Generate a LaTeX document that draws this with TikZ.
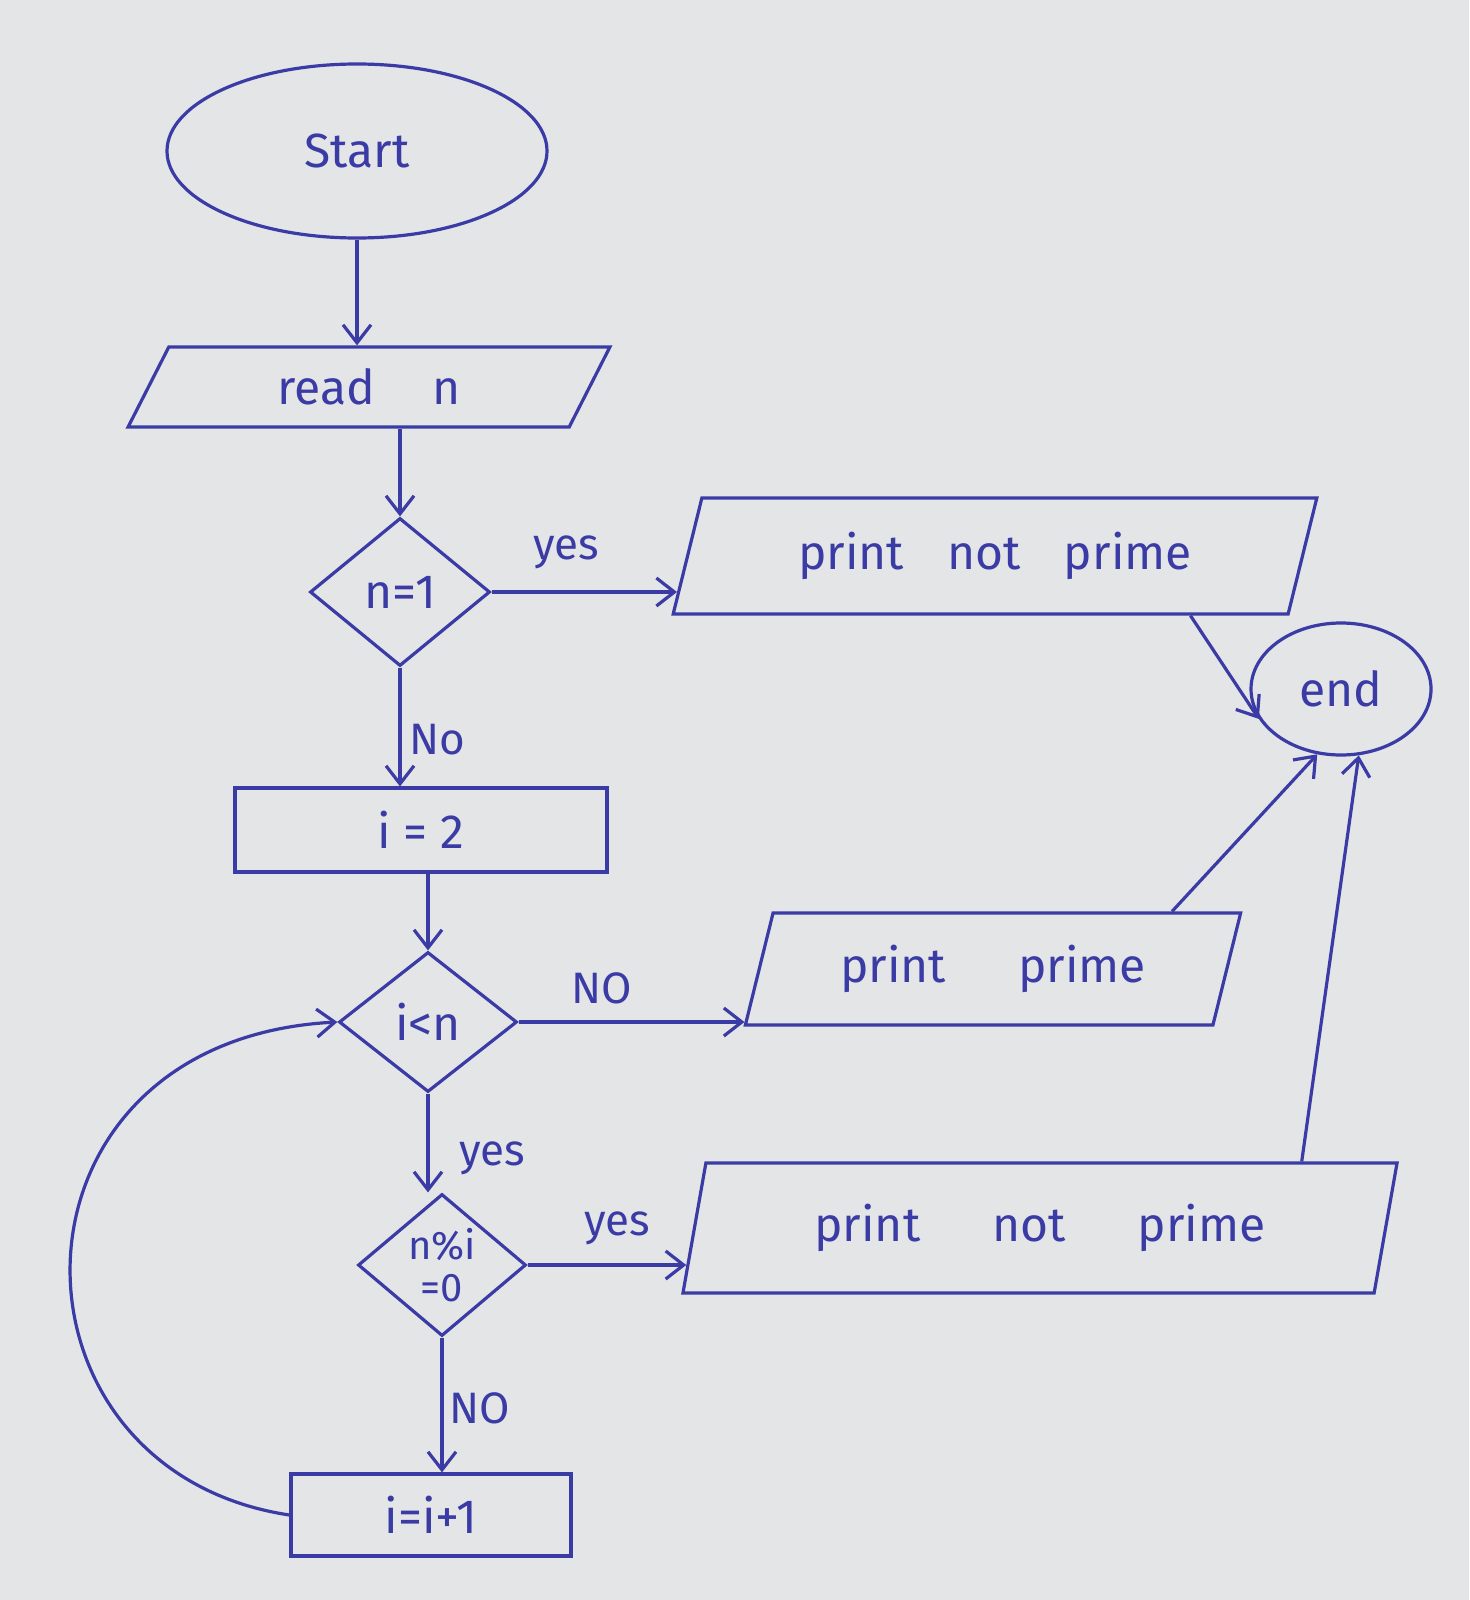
\documentclass[tikz,border=0pt]{standalone}
\usepackage{fontspec}
\setmainfont{Fira Sans}
\usetikzlibrary{shapes.geometric,arrows.meta,calc,intersections}
\definecolor{ink}{HTML}{3B3BA6}
\definecolor{paper}{HTML}{E4E5E7}
\begin{document}
\begin{tikzpicture}[x=0.5pt,y=-0.5pt,
  every node/.style={text=ink, font=\fontsize{24}{28}\selectfont},
  line/.style={draw=ink, line width=1.6pt},
  arr/.style={line, -{Straight Barb[length=9pt,width=14pt]}},
  term/.style={line, ellipse, inner sep=0pt},
  io/.style={line, trapezium, trapezium left angle=68, trapezium right angle=112, trapezium stretches=true, inner sep=0pt},
  proc/.style={line, rectangle, inner sep=0pt},
  dec/.style={line, diamond, inner sep=0pt, aspect=1.2},
  lbl/.style={font=\fontsize{22}{26}\selectfont}
]
\fill[paper] (0,0) rectangle (1469,1600);
\useasboundingbox (0,0) rectangle (1469,1600);

% nodes
\node[term, minimum width=190pt, minimum height=87pt] (start) at (357,151) {Start};
\node[io, trapezium left angle=63, trapezium right angle=117, minimum width=241pt, minimum height=40pt] (read) at (369,387) {read\hspace{1.2em}n};
\node[dec, minimum width=90pt, minimum height=74pt] (n1) at (400,592) {n=1};
\node[io, minimum width=322pt, minimum height=58pt] (pnp1) at (995,556) {print\hspace{0.9em}not\hspace{0.9em}prime};
\node[term, minimum width=90pt, minimum height=66pt] (end) at (1341,689) {end};
\node[proc, minimum width=186pt, minimum height=42pt] (i2) at (421,830) {i = 2};
\node[dec, minimum width=89pt, minimum height=70pt] (ilt) at (428,1022) {i<n};
\node[io, minimum width=248pt, minimum height=56pt] (pp) at (993,969) {print\hspace{1.5em}prime};
\node[dec, minimum width=84pt, minimum height=71pt, align=center, font=\fontsize{20}{21}\selectfont] (nmi) at (442,1265) {n\%i\\=0};
\node[io, trapezium left angle=72, trapezium right angle=108, minimum width=358pt, minimum height=65pt] (pnp2) at (1040,1228) {print\hspace{1.5em}not\hspace{1.5em}prime};
\node[proc, minimum width=140pt, minimum height=41pt] (inc) at (431,1515) {i=i+1};

% helper intersections for horizontal arrows
\path[name path=h1] (n1.east) -- ++(700,0);
\path[name path=s1] (pnp1.bottom left corner) -- (pnp1.top left corner);
\path[name intersections={of=h1 and s1, by=p1}];
\path[name path=h2] (ilt.east) -- ++(700,0);
\path[name path=s2] (pp.bottom left corner) -- (pp.top left corner);
\path[name intersections={of=h2 and s2, by=p2}];
\path[name path=h3] (nmi.east) -- ++(700,0);
\path[name path=s3] (pnp2.bottom left corner) -- (pnp2.top left corner);
\path[name intersections={of=h3 and s3, by=p3}];

% connectors
\draw[arr] (start.south) -- (start.south |- read.north);
\draw[arr] (n1.north |- read.south) -- (n1.north);
\draw[arr] (n1.east) -- (p1);
\draw[arr] (n1.south) -- (n1.south |- i2.north);
\draw[arr] (ilt.north |- i2.south) -- (ilt.north);
\draw[arr] (ilt.east) -- (p2);
\draw[arr] (ilt.south) -- (ilt.south |- nmi.north);
\draw[arr] (nmi.east) -- (p3);
\draw[arr] (nmi.south) -- (nmi.south |- inc.north);
\draw[arr] (inc.west) .. controls (-10,1470) and (-10,1040) .. (ilt.west);
\draw[arr] ($(pnp1.bottom left corner)!0.84!(pnp1.bottom right corner)$) -- (end.200);
\draw[arr] ($(pp.top left corner)!0.85!(pp.top right corner)$) -- (end.250);
\draw[arr] ($(pnp2.top left corner)!0.86!(pnp2.top right corner)$) -- (end.285);

% labels
\node[lbl] (ly1) at (566,552) {yes};
\node[lbl] (ln1) at (437,740) {No};
\node[lbl] (ln2) at (602,988) {NO};
\node[lbl] (ly2) at (492,1158) {yes};
\node[lbl] (ly3) at (617,1228) {yes};
\node[lbl] (ln3) at (480,1408) {NO};
\end{tikzpicture}
\end{document}
